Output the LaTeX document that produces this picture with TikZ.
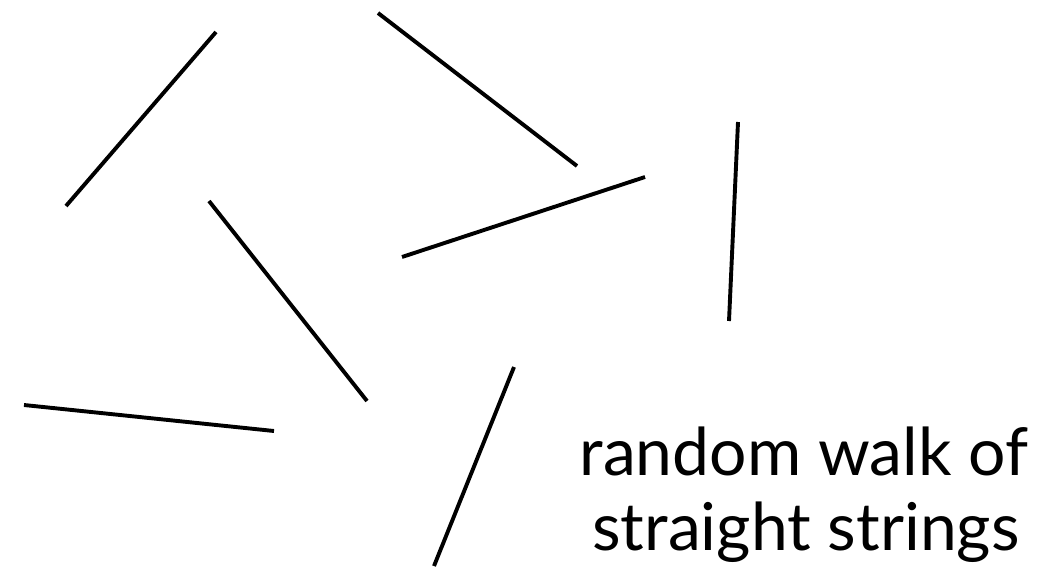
\documentclass[tikz,border=0pt]{standalone}
\usepackage{fontspec}
\setmainfont{Lato}
\begin{document}
\begin{tikzpicture}[x=1pt,y=-1pt,
  stringseg/.style={line width=3.9pt, black},
  caption/.style={font=\fontsize{66}{70}\selectfont, align=center, inner sep=0pt}]
\useasboundingbox (0,0) rectangle (1056,576);
\coordinate (a1) at (216,32);  \coordinate (a2) at (66,206);
\coordinate (b1) at (378,13);  \coordinate (b2) at (577,166);
\coordinate (c1) at (645,177); \coordinate (c2) at (402,257);
\coordinate (d1) at (738,122); \coordinate (d2) at (729,321);
\coordinate (e1) at (209,201); \coordinate (e2) at (367,401);
\coordinate (f1) at (24,405);  \coordinate (f2) at (274,431);
\coordinate (g1) at (514,367); \coordinate (g2) at (434,566);
\draw[stringseg] (a1) -- (a2);
\draw[stringseg] (b1) -- (b2);
\draw[stringseg] (c1) -- (c2);
\draw[stringseg] (d1) -- (d2);
\draw[stringseg] (e1) -- (e2);
\draw[stringseg] (f1) -- (f2);
\draw[stringseg] (g1) -- (g2);
\node[caption, anchor=base] (t1) at (804,475) {random walk of};
\node[caption, anchor=base] (t2) at (806,550) {straight strings};
\end{tikzpicture}
\end{document}
